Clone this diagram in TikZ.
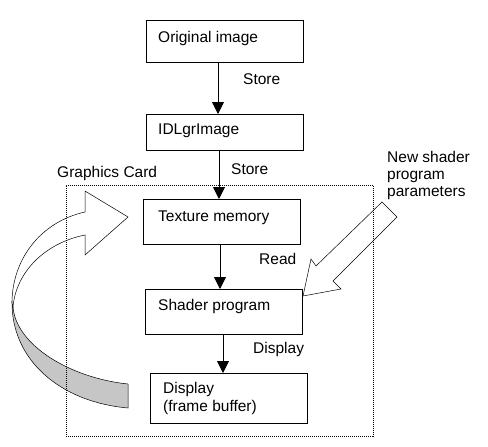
\documentclass[tikz,border=0pt]{standalone}
\usepackage{fontspec}
\setmainfont{Liberation Sans}
\usetikzlibrary{arrows.meta}
\begin{document}
\begin{tikzpicture}[x=1pt,y=-1pt,
  box/.style={draw=black,line width=0.9pt,minimum width=157pt,inner sep=0pt,anchor=north west},
  lbl/.style={inner sep=0pt,anchor=base west,font=\fontsize{15.5}{18}\selectfont},
  arr/.style={line width=0.9pt,-{Triangle[length=12pt,width=12pt]}},
  fat/.style={draw=black,line width=0.5pt,line join=miter},
  card/.style={draw=black,line width=0.6pt,dash pattern=on 1pt off 1pt,inner sep=0pt,anchor=north west}]
\useasboundingbox (0,0) rectangle (488,447);
% left curved ribbon arrow
\filldraw[fat,fill=gray!45] (12,303) .. controls (12,360) and (60,402) .. (128,408)
  -- (128,384) .. controls (70,378) and (16,345) .. (13,307) -- cycle;
\filldraw[fat,fill=white] (12,303) .. controls (12,260) and (40,222) .. (85,212)
  -- (85,191) -- (128,217) -- (85,255) -- (85,235)
  .. controls (45,243) and (16,272) .. (13,307) -- cycle;
% big arrow for new parameters
\filldraw[fat,fill=white] (382,202) -- (397,217) -- (333,281) -- (341,289) -- (303,296)
  -- (311,259) -- (316,266) -- cycle;
% graphics card frame
\node[card,minimum width=307pt,minimum height=251pt] (gc) at (66,185) {};
\node[lbl] (gclbl) at (57,177) {Graphics Card};
% boxes
\node[box,minimum height=42pt] (orig) at (146,20) {};
\node[box,minimum height=36pt] (idl) at (146,114) {};
\node[box,minimum height=45pt] (tex) at (143,199) {};
\node[box,minimum height=45pt] (shd) at (145,289) {};
\node[box,minimum height=50pt] (disp) at (150,373) {};
% box texts
\node[lbl] (t1) at (158,42) {Original image};
\node[lbl] (t2) at (158,134) {IDLgrImage};
\node[lbl] (t3) at (158,221) {Texture memory};
\node[lbl] (t4) at (158,310) {Shader program};
\node[lbl] (t5) at (163,393) {Display};
\node[lbl] (t6) at (163,411) {(frame buffer)};
% arrow labels
\node[lbl] (s1) at (243,84) {Store};
\node[lbl] (s2) at (231,174) {Store};
\node[lbl] (rd) at (259,264) {Read};
\node[lbl] (dl) at (253,353) {Display};
\node[lbl] (n1) at (387,162) {New shader};
\node[lbl] (n2) at (387,179) {program};
\node[lbl] (n3) at (387,196) {parameters};
% connectors
\coordinate (c1) at (218,0);
\coordinate (c2) at (219,0);
\coordinate (c3) at (220,0);
\coordinate (c4) at (223,0);
\draw[arr] (c1 |- orig.south) -- (c1 |- idl.north);
\draw[arr] (c2 |- idl.south) -- (c2 |- tex.north);
\draw[arr] (c3 |- tex.south) -- (c3 |- shd.north);
\draw[arr] (c4 |- shd.south) -- (c4 |- disp.north);
\end{tikzpicture}
\end{document}
